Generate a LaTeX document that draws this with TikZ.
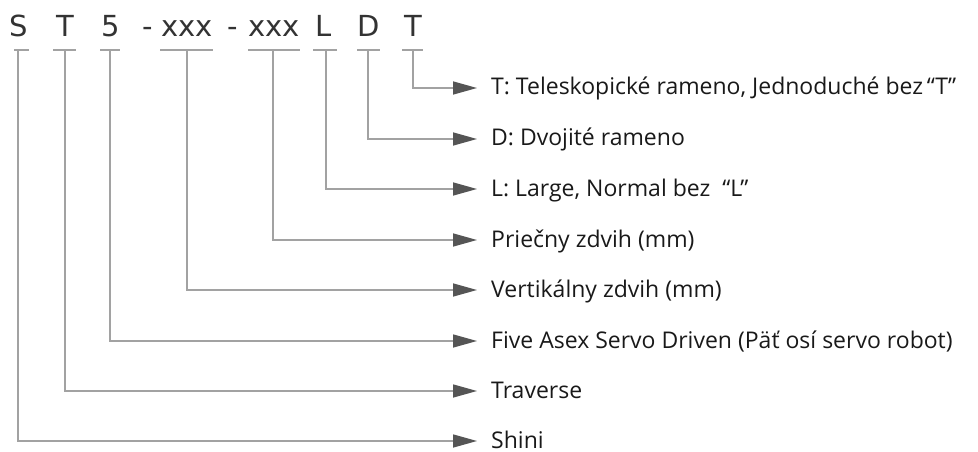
\documentclass[tikz,border=0pt]{standalone}
\usepackage{fontspec}
\setmainfont{Open Sans}
\newfontfamily\codefont{DejaVu Sans}
\usetikzlibrary{arrows.meta}

\definecolor{linegray}{HTML}{A2A2A2}
\definecolor{tipgray}{HTML}{555555}
\definecolor{textgray}{HTML}{333333}

\tikzset{
  codechar/.style={anchor=base, inner sep=0pt, text=textgray,
    font=\codefont\fontsize{29}{29}\selectfont},
  bar/.style={draw=linegray, line width=1.5pt},
  conn/.style={draw=linegray, line width=1.5pt,
    -{Triangle[length=24pt,width=13pt,color=tipgray]}},
  desc/.style={anchor=west, inner xsep=14pt, inner ysep=0pt,
    text height=14pt, text depth=0pt, text=black!90,
    font=\fontsize{23}{23}\selectfont}
}

\begin{document}
\begin{tikzpicture}[x=1pt, y=-1pt]
    \useasboundingbox (0, 0) rectangle (978, 452);

    % code letters
    \node[codechar] (cS) at (19, 37) {S};
    \node[codechar] (cT) at (65, 37) {T};
    \node[codechar] (c5) at (111, 37) {5};
    \node[codechar] (cD1) at (148, 37) {-};
    \node[codechar] (cX1) at (187, 37) {xxx};
    \node[codechar] (cD2) at (233, 37) {-};
    \node[codechar] (cX2) at (274, 37) {xxx};
    \node[codechar] (cL) at (324, 37) {L};
    \node[codechar] (cD) at (369, 37) {D};
    \node[codechar] (cT2) at (413, 37) {T};

    % bars under the letters
    \coordinate (bS) at (18, 50);
    \coordinate (bT) at (65, 50);
    \coordinate (b5) at (110, 50);
    \coordinate (bX1) at (187, 50);
    \coordinate (bX2) at (273, 50);
    \coordinate (bL) at (326, 50);
    \coordinate (bD) at (368, 50);
    \coordinate (bT2) at (413, 50);
    \draw[bar] (14, 50) -- (29, 50);
    \draw[bar] (53, 50) -- (76, 50);
    \draw[bar] (100, 50) -- (120, 50);
    \draw[bar] (160, 50) -- (213, 50);
    \draw[bar] (248, 50) -- (300, 50);
    \draw[bar] (313, 50) -- (337, 50);
    \draw[bar] (357, 50) -- (380, 50);
    \draw[bar] (402, 50) -- (423, 50);

    % descriptions
    \node[desc] (dT2) at (477, 88) {T: Teleskopické rameno, Jednoduché bez\,“T”};
    \node[desc] (dD) at (477, 139) {D: Dvojité rameno};
    \node[desc] (dL) at (477, 189) {L: Large, Normal bez \ “L”};
    \node[desc] (dX2) at (477, 240) {Priečny zdvih (mm)};
    \node[desc] (dX1) at (477, 290) {Vertikálny zdvih (mm)};
    \node[desc] (d5) at (477, 341) {Five Asex Servo Driven (Päť osí servo robot)};
    \node[desc] (dT) at (477, 391) {Traverse};
    \node[desc] (dS) at (477, 441) {Shini};

    % connectors
    \draw[conn] (bT2) |- (dT2.west);
    \draw[conn] (bD) |- (dD.west);
    \draw[conn] (bL) |- (dL.west);
    \draw[conn] (bX2) |- (dX2.west);
    \draw[conn] (bX1) |- (dX1.west);
    \draw[conn] (b5) |- (d5.west);
    \draw[conn] (bT) |- (dT.west);
    \draw[conn] (bS) |- (dS.west);
\end{tikzpicture}
\end{document}
